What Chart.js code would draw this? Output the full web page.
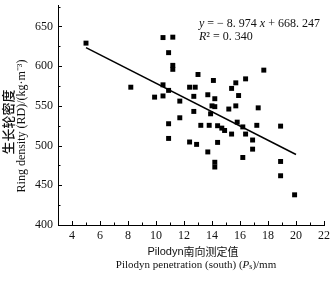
<!DOCTYPE html>
<html>
<head>
<meta charset="utf-8">
<script src="https://cdn.jsdelivr.net/npm/chart.js@4/dist/chart.umd.min.js"></script>
<style>
html,body{margin:0;padding:0;background:#fff;}
#wrap{width:334px;height:283px;position:relative;}
</style>
</head>
<body>
<div id="wrap"><canvas id="c"></canvas></div>
<script>
// Data
const penetration = [5.0, 8.2, 9.9, 10.5, 11.2, 10.9, 11.2, 11.2, 10.5, 10.5, 10.9, 11.7, 11.7, 10.9, 10.9,
  12.4, 12.4, 12.7, 12.8, 13.0, 12.7, 13.2, 12.9, 13.7, 13.8, 13.7, 14.1, 14.2, 14.0, 14.2, 13.9,
  14.4, 14.7, 14.9, 14.4, 14.2, 14.2, 15.2, 15.4, 15.7, 15.9, 15.7, 15.8, 15.4, 16.4, 16.2, 16.4,
  16.2, 16.9, 16.9, 17.2, 17.3, 17.7, 18.9, 18.9, 18.9, 19.9];
const ringDensity = [629, 573.5, 561, 636, 636.5, 617, 601, 596, 576.5, 562.5, 569.5, 556, 535, 527.5, 509,
  504.5, 573.5, 562, 573.5, 589.5, 543, 525.5, 501.5, 564, 525.5, 492, 582, 559, 550, 549, 540,
  525, 522, 519, 504, 479, 473, 546, 572, 579, 563, 550, 529.5, 514.5, 584, 523.5, 514.5,
  485, 507, 495.5, 525.5, 547.5, 595, 524.5, 480, 462, 438];
const fitX = [5, 20];
const fitY = [623.4, 488.8];
const xTickValues = [4, 6, 8, 10, 12, 14, 16, 18, 20, 22];
const xMinorValues = [5, 7, 9, 11, 13, 15, 17, 19, 21];
const yTickValues = [400, 450, 500, 550, 600, 650];
const yMinorValues = [425, 475, 525, 575, 625, 675];
const equationText = ["y", " = − 8. 974 ", "x", " + 668. 247"];
const r2Text = ["R", "²", " = 0. 340"];
const yTitleZh = "生长轮密度";
const yTitleEn = "Ring density (RD)/(kg·m⁻³)";
const xTitleEnA = "Pilodyn";
const xTitleZh = "南向测定值";
const xTitleEn = ["Pilodyn penetration (south) (", "P", "s", ")/mm"];

const SERIF = "'Liberation Serif', 'Times New Roman', serif";
const SANS = "'Liberation Sans', Arial, sans-serif";
const CJK = "'Noto Sans CJK SC', sans-serif";

function drawRuns(ctx, runs, x, y, align) {
  let total = 0;
  runs.forEach(r => { ctx.font = r.font; total += ctx.measureText(r.t).width; });
  let cx = align === 'center' ? x - total / 2 : x;
  ctx.textAlign = 'left';
  ctx.textBaseline = 'middle';
  runs.forEach(r => {
    ctx.font = r.font;
    ctx.fillText(r.t, cx, y + (r.dy || 0));
    cx += ctx.measureText(r.t).width;
  });
}

const decor = {
  id: 'decor',
  afterDraw(chart) {
    const ctx = chart.ctx;
    const xs = chart.scales.x, ys = chart.scales.y;
    const area = chart.chartArea;
    ctx.save();
    ctx.strokeStyle = '#000';
    ctx.lineWidth = 1;
    ctx.beginPath();
    xTickValues.forEach(v => { const p = Math.round(xs.getPixelForValue(v)) + 0.5; ctx.moveTo(p, area.bottom); ctx.lineTo(p, area.bottom - 4); });
    xMinorValues.forEach(v => { const p = Math.round(xs.getPixelForValue(v)) + 0.5; ctx.moveTo(p, area.bottom); ctx.lineTo(p, area.bottom - 2.5); });
    yTickValues.forEach(v => { const p = Math.round(ys.getPixelForValue(v)) + 0.5; ctx.moveTo(area.left, p); ctx.lineTo(area.left + 4, p); });
    yMinorValues.forEach(v => { const p = Math.round(ys.getPixelForValue(v)) + 0.5; ctx.moveTo(area.left, p); ctx.lineTo(area.left + 2.5, p); });
    ctx.stroke();

    ctx.fillStyle = '#111';
    // equation
    drawRuns(ctx, [
      {t: equationText[0], font: 'italic 12px ' + SERIF},
      {t: equationText[1], font: '12px ' + SERIF},
      {t: equationText[2], font: 'italic 12px ' + SERIF},
      {t: equationText[3], font: '12px ' + SERIF}
    ], 199, 24, 'left');
    drawRuns(ctx, [
      {t: r2Text[0], font: 'italic 12px ' + SERIF},
      {t: r2Text[1], font: '12px ' + SERIF},
      {t: r2Text[2], font: '12px ' + SERIF}
    ], 199, 37, 'left');

    // x titles
    drawRuns(ctx, [
      {t: xTitleEnA, font: '11px ' + SANS},
      {t: xTitleZh, font: '11px ' + CJK}
    ], 193, 252, 'center');
    drawRuns(ctx, [
      {t: xTitleEn[0], font: '11px ' + SERIF},
      {t: xTitleEn[1], font: 'italic 11px ' + SERIF},
      {t: xTitleEn[2], font: '8px ' + SERIF, dy: 2},
      {t: xTitleEn[3], font: '11px ' + SERIF}
    ], 196, 265, 'center');

    // y titles (rotated)
    ctx.save();
    ctx.translate(8, 122);
    ctx.rotate(-Math.PI / 2);
    drawRuns(ctx, [{t: yTitleZh, font: '500 13px ' + CJK}], 0, 0, 'center');
    ctx.restore();
    ctx.save();
    ctx.translate(22, 126);
    ctx.rotate(-Math.PI / 2);
    drawRuns(ctx, [{t: yTitleEn, font: '12px ' + SERIF}], 0, 0, 'center');
    ctx.restore();
    ctx.restore();
  }
};

const pts = penetration.map((x, i) => ({x: x, y: ringDensity[i]}));
const fit = fitX.map((x, i) => ({x: x, y: fitY[i]}));

new Chart(document.getElementById('c'), {
  type: 'scatter',
  data: {
    datasets: [
      {data: pts, pointStyle: 'rect', pointRadius: 3.5, backgroundColor: '#000', borderColor: '#000', borderWidth: 0},
      {data: fit, showLine: true, pointRadius: 0, borderColor: '#000', borderWidth: 1.5, fill: false}
    ]
  },
  options: {
    responsive: true,
    maintainAspectRatio: false,
    animation: false,
    devicePixelRatio: 1,
    layout: {padding: {top: 5, right: 10, left: 0, bottom: 0}},
    plugins: {legend: {display: false}, tooltip: {enabled: false}},
    scales: {
      x: {
        type: 'linear', min: 3, max: 22,
        grid: {display: false, drawTicks: false},
        border: {display: true, color: '#000', width: 1},
        afterBuildTicks: s => { s.ticks = xTickValues.map(v => ({value: v})); },
        afterFit: s => { s.height = 58; s.paddingLeft = 0; s.paddingRight = 0; },
        ticks: {padding: 4, color: '#111', font: {family: SERIF, size: 12}, maxRotation: 0, autoSkip: false}
      },
      y: {
        type: 'linear', min: 400, max: 677,
        grid: {display: false, drawTicks: false},
        border: {display: true, color: '#000', width: 1},
        afterBuildTicks: s => { s.ticks = yTickValues.map(v => ({value: v})); },
        afterFit: s => { s.width = 58; s.paddingTop = 0; s.paddingBottom = 0; },
        ticks: {padding: 5, color: '#111', font: {family: SERIF, size: 12}}
      }
    }
  },
  plugins: [decor]
});
</script>
</body>
</html>
